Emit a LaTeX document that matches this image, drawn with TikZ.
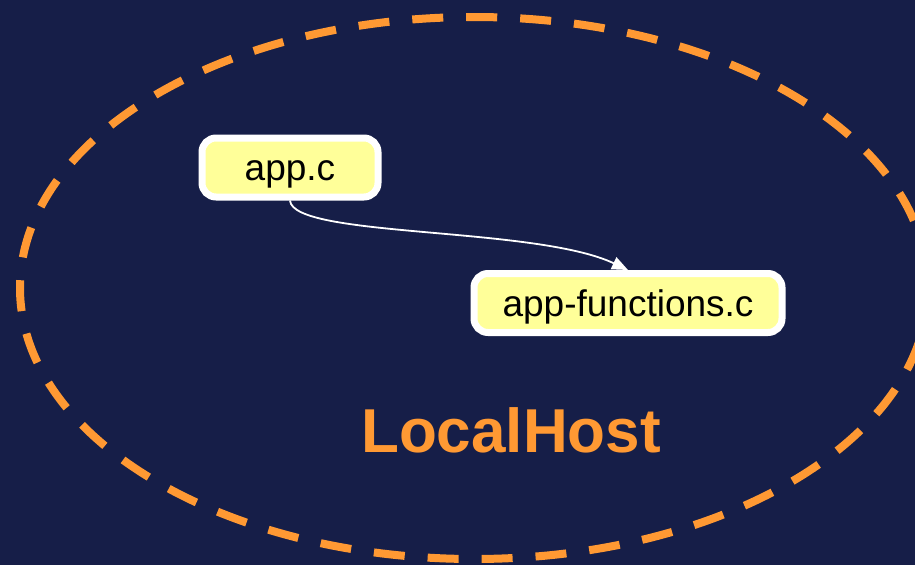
\documentclass[tikz,border=0pt]{standalone}
\usepackage{fontspec}
\setmainfont{Liberation Sans}
\usetikzlibrary{arrows.meta}
\definecolor{slidebg}{HTML}{161E48}
\definecolor{hostorange}{HTML}{FF9933}
\definecolor{fileyellow}{HTML}{FFFF99}
\begin{document}
\begin{tikzpicture}[x=1pt, y=-1pt,
    filebox/.style = {shape=rectangle, rounded corners=14pt,
      draw=white, line width=7pt, fill=fileyellow,
      minimum height=59pt, inner xsep=0pt, align=center,
      text height=33pt, text depth=7pt,
      font=\fontsize{37}{40}\selectfont}]
  \useasboundingbox[fill=slidebg] (0,0) rectangle (915,565);
  \clip (0,0) rectangle (915,565);
  % the host
  \draw[hostorange, line width=8pt, dash pattern=on 31pt off 23pt]
    (474,288) ellipse [x radius=454, y radius=271];
  \node[font=\fontsize{62}{70}\selectfont\bfseries, text=hostorange,
    anchor=base] (host) at (511,452) {LocalHost};
  % the files
  \node[filebox, minimum width=176pt] (app) at (290,167.5) {app.c};
  \node[filebox, minimum width=308pt] (funcs) at (628,303) {app-functions.c};
  \draw[white, line width=1.8pt, -{Triangle[length=16pt,width=13pt]}]
    (app.south) .. controls (293,238) and (535,226) .. (funcs.north);
\end{tikzpicture}
\end{document}
